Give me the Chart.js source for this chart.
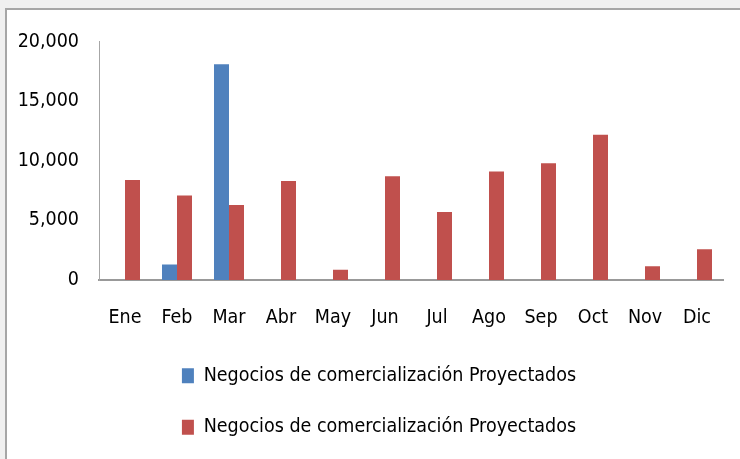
<!DOCTYPE html>
<html>
<head>
<meta charset="utf-8">
<script src="https://cdn.jsdelivr.net/npm/chart.js@4/dist/chart.umd.min.js"></script>
<style>
  html, body { margin: 0; padding: 0; background: #f0f0f0; overflow: hidden; width: 740px; height: 459px; }
  #frame { position: absolute; left: 5px; top: 8px; width: 760px; height: 480px; border: 2px solid #a6a6a6; background: #fff; }
  #wrap { position: absolute; left: 0; top: 0; width: 733px; height: 470px; }
</style>
</head>
<body>
<div id="frame"><div id="wrap"><canvas id="c" width="733" height="470"></canvas></div></div>
<script>
const categories = ['Ene', 'Feb', 'Mar', 'Abr', 'May', 'Jun', 'Jul', 'Ago', 'Sep', 'Oct', 'Nov', 'Dic'];
const seriesLabel = 'Negocios de comercialización Proyectados';
const blueValues = [null, 1300, 18100, null, null, null, null, null, null, null, null, null];
const redValues = [8400, 7100, 6300, 8300, 870, 8700, 5700, 9100, 9800, 12200, 1150, 2580];
const yTicks = [0, 5000, 10000, 15000, 20000];

const FONT = "'Liberation Sans Narrow', 'DejaVu Sans Condensed', 'Arial Narrow', sans-serif";

const legendShift = {
  id: 'legendShift',
  afterLayout(chart) {
    if (chart.legend) { chart.legend.left += 14; chart.legend.right += 14; }
  }
};

new Chart(document.getElementById('c'), {
  type: 'bar',
  data: {
    labels: categories,
    datasets: [
      { label: seriesLabel, data: blueValues, backgroundColor: '#4f81bd', borderWidth: 0 },
      { label: seriesLabel, data: redValues, backgroundColor: '#c0504d', borderWidth: 0 }
    ]
  },
  plugins: [legendShift],
  options: {
    responsive: false,
    animation: false,
    devicePixelRatio: 1,
    categoryPercentage: 0.577,
    barPercentage: 1,
    layout: { padding: { top: 30, right: 17, left: 0, bottom: 33 } },
    plugins: {
      tooltip: { enabled: false },
      legend: {
        position: 'bottom',
        align: 'center',
        labels: {
          boxWidth: 12,
          boxHeight: 15,
          padding: 32,
          color: '#000',
          font: { family: FONT, size: 19.5 }
        }
      }
    },
    scales: {
      x: {
        grid: { display: false, drawTicks: false },
        border: { display: true, color: '#999999', width: 2 },
        ticks: { color: '#000', padding: 26, font: { family: FONT, size: 19.5 }, maxRotation: 0 },
        afterFit: (s) => { s.height = 54; }
      },
      y: {
        min: 0,
        max: 20000,
        grid: { display: false, drawTicks: false },
        border: { display: true, color: '#a6a6a6', width: 1 },
        afterBuildTicks: (s) => { s.ticks = yTicks.map(v => ({ value: v })); },
        ticks: {
          color: '#000',
          padding: 20,
          font: { family: FONT, size: 19.5 },
          callback: (v) => v.toLocaleString('en-US')
        },
        afterFit: (s) => { s.width = 92; }
      }
    }
  }
});
</script>
</body>
</html>
